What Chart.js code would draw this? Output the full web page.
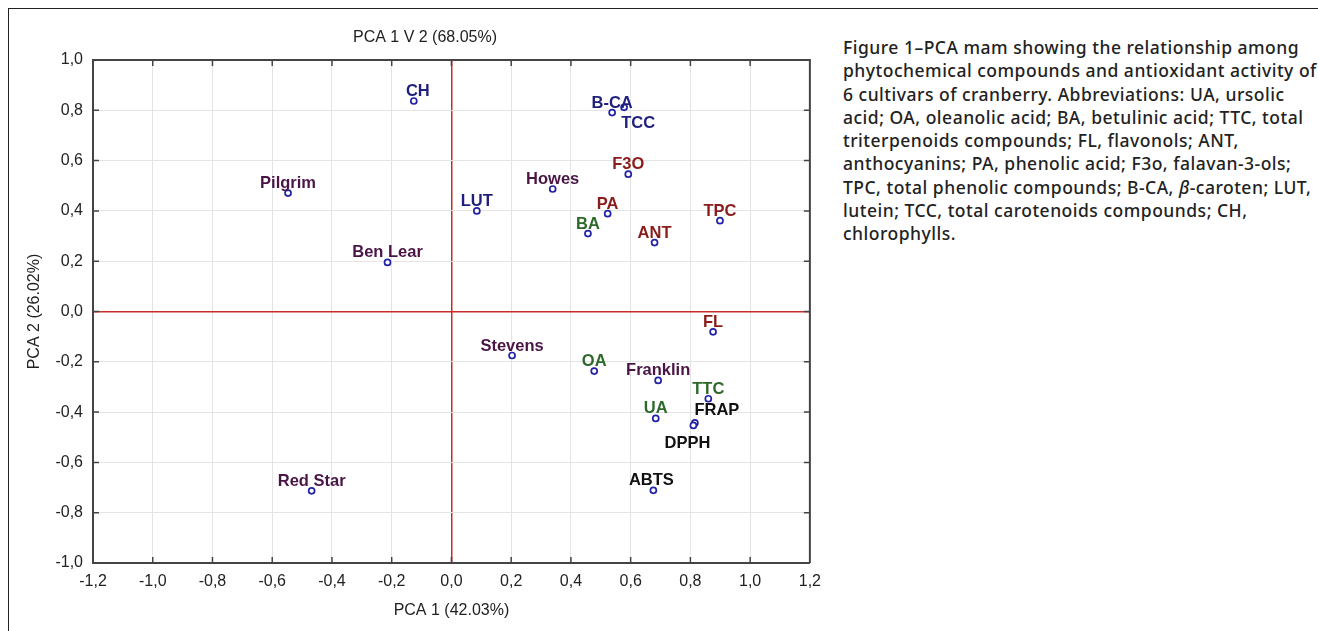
<!DOCTYPE html>
<html>
<head>
<meta charset="utf-8">
<script src="https://cdn.jsdelivr.net/npm/chart.js@4.4.1/dist/chart.umd.min.js"></script>
<style>
  html, body { margin: 0; padding: 0; background: #fff; }
  body { width: 1318px; height: 631px; position: relative; overflow: hidden; }
  #frame {
    position: absolute; left: 8px; top: 8px; right: 0; bottom: 0;
    border-top: 1.5px solid #222; border-left: 1.5px solid #222;
  }
  #plot { position: absolute; left: 0; top: 0; width: 830px; height: 631px; }
  #caption {
    position: absolute; left: 843px; top: 36px;
    font-family: "Noto Sans", sans-serif; font-weight: 500;
    font-size: 17.5px; line-height: 23.3px; letter-spacing: 0.5px;
    color: #222; white-space: nowrap;
  }
</style>
</head>
<body>
<div id="frame"></div>
<div id="plot"><canvas id="pca"></canvas></div>
<div id="caption">
  Figure 1–PCA mam showing the relationship among<br>
  phytochemical compounds and antioxidant activity of<br>
  6 cultivars of cranberry. Abbreviations: UA, ursolic<br>
  acid; OA, oleanolic acid; BA, betulinic acid; TTC, total<br>
  triterpenoids compounds; FL, flavonols; ANT,<br>
  anthocyanins; PA, phenolic acid; F3o, falavan-3-ols;<br>
  TPC, total phenolic compounds; B-CA, <i>β</i>-caroten; LUT,<br>
  lutein; TCC, total carotenoids compounds; CH,<br>
  chlorophylls.
</div>
<script>
// points
const names = ["CH", "Pilgrim", "Ben Lear", "Red Star", "B-CA", "TCC", "F3O", "Howes", "LUT",
  "PA", "BA", "ANT", "TPC", "FL", "Stevens", "OA", "Franklin", "TTC", "UA", "FRAP", "DPPH", "ABTS"];
const pc1 = [-0.126, -0.547, -0.214, -0.468, 0.538, 0.578, 0.592, 0.339, 0.085,
  0.523, 0.457, 0.680, 0.899, 0.876, 0.203, 0.478, 0.692, 0.860, 0.684, 0.815, 0.810, 0.676];
const pc2 = [0.837, 0.471, 0.195, -0.713, 0.791, 0.812, 0.546, 0.487, 0.400,
  0.389, 0.310, 0.274, 0.361, -0.081, -0.175, -0.237, -0.274, -0.347, -0.425, -0.443, -0.453, -0.711];
const groups = ["pig", "cult", "cult", "cult", "pig", "pig", "phen", "cult", "pig",
  "phen", "terp", "phen", "phen", "phen", "cult", "terp", "cult", "terp", "terp", "anti", "anti", "anti"];
const xTicks = [-1.2, -1.0, -0.8, -0.6, -0.4, -0.2, 0, 0.2, 0.4, 0.6, 0.8, 1.0, 1.2];
const yTicks = [-1.0, -0.8, -0.6, -0.4, -0.2, 0, 0.2, 0.4, 0.6, 0.8, 1.0];

const groupColors = { cult: "#4a1546", pig: "#1f1f7c", phen: "#8a1c1c", terp: "#2d6a2a", anti: "#111111" };
// label nudges where the original moved overlapping labels
const labelShift = { "CH": [4, 0], "TCC": [14, 26], "FRAP": [22, -3], "DPPH": [-6, 28], "ABTS": [-2, 0] };

const isZero = v => Math.abs(v) < 1e-9;
const fmt = v => (isZero(v) ? 0 : v).toFixed(1).replace(".", ",");

const overlay = {
  id: "overlay",
  afterDraw(chart) {
    const c = chart.ctx, a = chart.chartArea;
    const xs = chart.scales.x, ys = chart.scales.y;
    c.save();
    c.strokeStyle = "#444";
    c.lineWidth = 2;
    c.beginPath();
    c.moveTo(a.left, a.top); c.lineTo(a.right, a.top); c.lineTo(a.right, a.bottom);
    c.stroke();
    c.lineWidth = 1.5;
    c.beginPath();
    xTicks.slice(1, -1).forEach(v => {
      const px = xs.getPixelForValue(v);
      c.moveTo(px, a.bottom); c.lineTo(px, a.bottom - 6);
      c.moveTo(px, a.top); c.lineTo(px, a.top + 6);
    });
    yTicks.slice(1, -1).forEach(v => {
      const py = ys.getPixelForValue(v);
      c.moveTo(a.left, py); c.lineTo(a.left + 6, py);
      c.moveTo(a.right, py); c.lineTo(a.right - 6, py);
    });
    c.stroke();
    c.fillStyle = "#222";
    c.font = "16px 'Liberation Sans', Arial, sans-serif";
    c.textAlign = "center";
    c.textBaseline = "middle";
    c.fillText("PCA 1 V 2 (68.05%)", 425, 38);
    c.fillText("PCA 1 (42.03%)", xs.getPixelForValue(0), 611);
    c.translate(35, ys.getPixelForValue(0));
    c.rotate(-Math.PI / 2);
    c.fillText("PCA 2 (26.02%)", 0, 0);
    c.restore();
  },
  afterDatasetsDraw(chart) {
    const c = chart.ctx;
    const meta = chart.getDatasetMeta(0);
    c.save();
    c.font = "bold 16.5px 'Liberation Sans', Arial, sans-serif";
    c.textAlign = "center";
    c.textBaseline = "alphabetic";
    meta.data.forEach((pt, i) => {
      const s = labelShift[names[i]] || [0, 0];
      c.fillStyle = groupColors[groups[i]];
      c.fillText(names[i], pt.x + s[0], pt.y - 5 + s[1]);
    });
    c.restore();
  }
};

new Chart(document.getElementById("pca"), {
  type: "scatter",
  data: {
    datasets: [{
      data: names.map((n, i) => ({ x: pc1[i], y: pc2[i] })),
      pointStyle: "circle",
      pointRadius: 3,
      pointBorderWidth: 1.7,
      pointBorderColor: "#2222a8",
      pointBackgroundColor: "#ffffff"
    }]
  },
  options: {
    responsive: true,
    maintainAspectRatio: false,
    animation: false,
    layout: { padding: { top: 60, right: 19, left: 0, bottom: 0 } },
    plugins: { legend: { display: false }, tooltip: { enabled: false } },
    scales: {
      x: {
        type: "linear", min: -1.2, max: 1.2,
        afterBuildTicks: s => { s.ticks = xTicks.map(v => ({ value: v })); },
        afterFit: s => { s.height = 68; },
        ticks: { callback: fmt, color: "#222", padding: 9, font: { size: 16, family: "'Liberation Sans', Arial" } },
        grid: {
          drawTicks: false,
          color: c => isZero(c.tick.value) ? "#cc2a2a" : "#e4e4e4",
          lineWidth: c => isZero(c.tick.value) ? 1.5 : 1
        },
        border: { color: "#444", width: 2 }
      },
      y: {
        type: "linear", min: -1, max: 1,
        afterBuildTicks: s => { s.ticks = yTicks.map(v => ({ value: v })); },
        afterFit: s => { s.width = 93; },
        ticks: { callback: fmt, color: "#222", padding: 10, font: { size: 16, family: "'Liberation Sans', Arial" } },
        grid: {
          drawTicks: false,
          color: c => isZero(c.tick.value) ? "#cc2a2a" : "#e4e4e4",
          lineWidth: c => isZero(c.tick.value) ? 1.5 : 1
        },
        border: { color: "#444", width: 2 }
      }
    }
  },
  plugins: [overlay]
});
</script>
</body>
</html>
